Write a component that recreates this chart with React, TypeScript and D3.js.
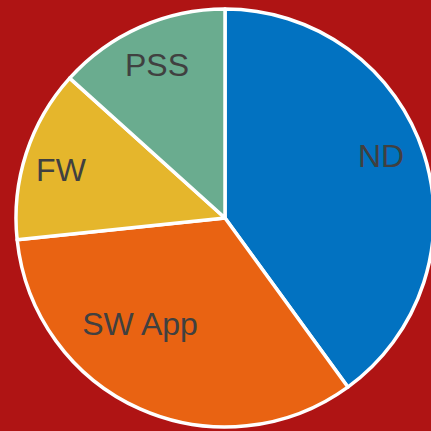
import React, { useRef, useEffect } from "react";
import * as d3 from "d3";

const categories = ["ND", "SW App", "FW", "PSS"];
const values = [6, 5, 2, 2];
const colors = ["#0272C1", "#E96312", "#E5B62C", "#6AAC8F"];
// label nudges (px) relative to the default label arc position
const labelNudgeX = [-3, -17, -5, 0];
const labelNudgeY = [-10, -47, 4, 0];

const App = () => {
  const svgRef = useRef<SVGSVGElement | null>(null);

  useEffect(() => {
    document.body.style.margin = "0";
    const svg = d3.select(svgRef.current);
    svg.selectAll("*").remove();

    const width = 431;
    const height = 431;
    const cx = 225;
    const cy = 218;
    const radius = 209;

    svg.attr("width", width).attr("height", height);

    svg
      .append("rect")
      .attr("width", width)
      .attr("height", height)
      .attr("fill", "#AF1414");

    const rows = categories.map((c, i) => ({ name: c, value: values[i], i }));

    const pie = d3
      .pie<any>()
      .sort(null)
      .value((d) => d.value);
    const arcs = pie(rows);

    const arc = d3.arc<any>().innerRadius(0).outerRadius(radius);
    const labelArc = d3
      .arc<any>()
      .innerRadius(radius * 0.8)
      .outerRadius(radius * 0.8);

    const g = svg.append("g").attr("transform", "translate(" + cx + "," + cy + ")");

    g.selectAll("path")
      .data(arcs)
      .enter()
      .append("path")
      .attr("d", arc)
      .attr("fill", (d) => colors[d.data.i])
      .attr("stroke", "#ffffff")
      .attr("stroke-width", 3.5)
      .attr("stroke-linejoin", "round");

    g.selectAll("text")
      .data(arcs)
      .enter()
      .append("text")
      .attr("x", (d) => labelArc.centroid(d)[0] + labelNudgeX[d.data.i])
      .attr("y", (d) => labelArc.centroid(d)[1] + labelNudgeY[d.data.i])
      .attr("text-anchor", "middle")
      .attr("dominant-baseline", "central")
      .style("font-family", "'Liberation Sans', Arial, sans-serif")
      .style("font-size", "32px")
      .attr("fill", "#404040")
      .text((d) => d.data.name);
  }, []);

  return (
    <svg
      ref={svgRef}
      style={{ position: "absolute", left: 0, top: 0, display: "block" }}
    ></svg>
  );
};

export default App;
